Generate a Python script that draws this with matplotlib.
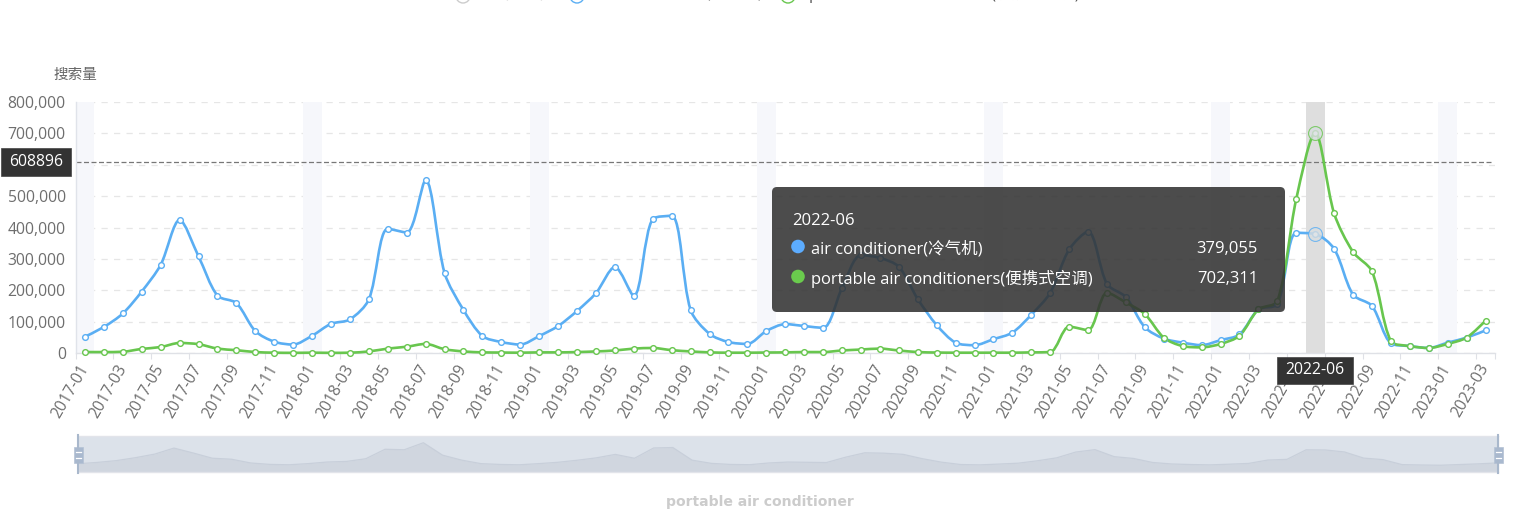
import matplotlib
matplotlib.use('Agg')
import matplotlib.pyplot as plt
from matplotlib.path import Path
from matplotlib.patches import PathPatch, FancyBboxPatch, Rectangle, Circle

plt.rcParams['font.family'] = ['Open Sans', 'Noto Sans CJK SC', 'DejaVu Sans']

months = ['%d-%02d' % (y, m) for y in range(2017, 2024) for m in range(1, 13)][:75]

air_conditioner = [
    52000, 83000, 126000, 196000, 281000, 424000, 308000, 183000, 159000, 70000, 36000, 27000,
    55000, 93000, 107000, 171000, 396000, 384000, 551000, 255000, 137000, 54000, 35000, 27000,
    54000, 86000, 134000, 191000, 274000, 182000, 427000, 437000, 137000, 61000, 35000, 29000,
    70000, 92000, 86000, 80000, 207000, 312000, 303000, 275000, 172000, 89000, 33000, 25000,
    44000, 65000, 122000, 192000, 330000, 387000, 220000, 178000, 82000, 46000, 33000, 25000,
    41000, 59000, 139000, 156000, 383000, 379055, 332000, 186000, 150000, 31000, 22000, 16000,
    33000, 49000, 72000,
]
portable = [
    3000, 3000, 4000, 13000, 19000, 32000, 28000, 14000, 9000, 3000, 1000, 500,
    1000, 500, 1000, 5000, 14000, 20000, 29000, 12000, 5000, 2000, 1500, 1000,
    2000, 2000, 3000, 5000, 8000, 14000, 16000, 9000, 5000, 2000, 1000, 1000,
    1500, 2000, 3000, 3000, 8000, 11000, 14000, 8000, 3000, 1500, 1000, 1000,
    1000, 1000, 2000, 3000, 84000, 73000, 192000, 161000, 124000, 49000, 22000, 18000,
    29000, 55000, 139000, 165000, 491000, 702311, 445000, 322000, 260000, 38000, 22000, 16000,
    29000, 49000, 103000,
]
y_ticks = [0, 100000, 200000, 300000, 400000, 500000, 600000, 700000, 800000]
mark_value = 608896
hover_month = '2022-06'

BLUE = '#5aaef3'
GREEN = '#68c64e'


def clamp(v, a, b):
    return min(max(v, min(a, b)), max(a, b))


def smooth_path(xs, ys, sx, sy, smooth=0.3):
    # same steps as the echarts smooth line, worked out in pixel units
    px = [x * sx for x in xs]
    py = [y * sy for y in ys]
    n = len(px)
    verts = [(xs[0], ys[0])]
    codes = [Path.MOVETO]
    out = (px[0], py[0])
    for i in range(1, n):
        if i == n - 1:
            cin = (px[i], py[i])
            nxt = None
        else:
            vx = px[i + 1] - px[i - 1]
            vy = py[i + 1] - py[i - 1]
            l1 = ((px[i] - px[i - 1]) ** 2 + (py[i] - py[i - 1]) ** 2) ** 0.5
            l2 = ((px[i + 1] - px[i]) ** 2 + (py[i + 1] - py[i]) ** 2) ** 0.5
            r = l2 / (l1 + l2)
            ox = clamp(px[i] + vx * smooth * r, px[i], px[i + 1])
            oy = clamp(py[i] + vy * smooth * r, py[i], py[i + 1])
            cx = clamp(px[i] - (ox - px[i]) * l1 / l2, px[i], px[i - 1])
            cy = clamp(py[i] - (oy - py[i]) * l1 / l2, py[i], py[i - 1])
            ox = px[i] + (px[i] - cx) * l2 / l1
            oy = py[i] + (py[i] - cy) * l2 / l1
            cin = (cx, cy)
            nxt = (ox, oy)
        verts += [(out[0] / sx, out[1] / sy), (cin[0] / sx, cin[1] / sy), (xs[i], ys[i])]
        codes += [Path.CURVE4, Path.CURVE4, Path.CURVE4]
        out = nxt
    return Path(verts, codes)


W, H = 1536, 517
fig = plt.figure(figsize=(W / 100, H / 100), dpi=100)


def px_axes(x0, y0, x1, y1):
    return fig.add_axes([x0 / W, 1 - y1 / H, (x1 - x0) / W, (y1 - y0) / H])


# main chart
ax = px_axes(75.5, 102, 1495, 353)
n = len(months)
xs = [i + 0.5 for i in range(n)]
ax.set_xlim(0, n)
ax.set_ylim(0, 800000)
sx = (1495 - 75.5) / n
sy = 251 / 800000

ax.set_axisbelow(True)
ax.yaxis.grid(True, color='#e6e6e6', lw=0.9, ls=(0, (5, 5)))
for i in range(n):
    if months[i].endswith('-01'):
        ax.axvspan(i, i + 1, color='#f6f7fb', lw=0, zorder=1)
hi = months.index(hover_month)
ax.axvspan(hi, hi + 1, color='#dedede', lw=0, zorder=1)
ax.plot([0, n - 0.15], [mark_value, mark_value], color='#777777', lw=0.9, ls=(0, (4, 2)), zorder=2)

for vals, col in [(air_conditioner, BLUE), (portable, GREEN)]:
    ax.add_patch(PathPatch(smooth_path(xs, vals, sx, sy), fc='none', ec=col, lw=1.9, zorder=3,
                           clip_on=False, capstyle='round'))
    ax.plot(xs, vals, ls='none', marker='o', ms=4.1, mfc='white', mec=col, mew=1.0, zorder=4, clip_on=False)
    ax.plot([xs[hi]], [vals[hi]], ls='none', marker='o', ms=10, mfc='#d8dde0', mec=col, mew=0.8,
            alpha=0.8, zorder=5, clip_on=False)

for s in ['top', 'right']:
    ax.spines[s].set_visible(False)
ax.spines['left'].set_color('#e0e3ea')
ax.spines['bottom'].set_color('#dfe1e6')
ax.spines['left'].set_linewidth(1)
ax.spines['bottom'].set_linewidth(1)

ax.set_yticks(y_ticks)
ax.set_yticklabels(['{:,}'.format(v) for v in y_ticks], fontsize=11.3, color='#6e6e6e',
                   va='center_baseline')
ax.tick_params(axis='y', length=0, pad=7)
ax.set_xticks(list(range(0, n, 2)) + [n])
ax.set_xticklabels([])
ax.tick_params(axis='x', which='major', length=4, width=0.8, color='#dfe1e6')
ax.set_xticks(xs[::2], minor=True)
ax.set_xticklabels(months[::2], minor=True, rotation=60, ha='right', va='center', rotation_mode='anchor',
                   fontsize=11.3, color='#6e6e6e')
ax.tick_params(axis='x', which='minor', length=0, pad=9)

# slider at the bottom, its shadow comes from the first series
sl = px_axes(78, 436, 1498, 472)
sl.set_facecolor('#dce2ea')
spread = max(air_conditioner) - min(air_conditioner)
sl.set_ylim(min(air_conditioner) - 0.3 * spread, max(air_conditioner) + 0.3 * spread)
sl.set_xlim(0, n - 1)
sl.fill_between(range(n), air_conditioner, sl.get_ylim()[0], color='#d0d6df', lw=0)
sl.plot(range(n), air_conditioner, color='#c8cfda', lw=0.9)
sl.set_xticks([])
sl.set_yticks([])
for s in sl.spines.values():
    s.set_color('#e2e4ea')
    s.set_linewidth(1)

# everything placed in page pixels goes on this overlay
ov = fig.add_axes([0, 0, 1, 1], zorder=10)
ov.set_xlim(0, W)
ov.set_ylim(H, 0)
ov.axis('off')
ov.patch.set_alpha(0)

ov.text(53, 75.5, '搜索量', fontsize=10.5, color='#666666', ha='left', va='center')

# legend, cut off by the top of the page
legend_items = [(463, 'AC(空调)', '#cccccc', '#cccccc'),
                (577, 'air conditioner(冷气机)', BLUE, '#555555'),
                (788, 'portable air conditioners(便携式空调)', GREEN, '#555555')]
for lx, label, col, tcol in legend_items:
    ov.add_patch(Circle((lx, -4), 7, fc='white', ec=col, lw=1))
    ov.text(lx + 21, -6, label, fontsize=11.3, color=tcol, ha='left', va='center')

# marker line label
ov.add_patch(Rectangle((1, 148), 70, 28, fc='#333333', ec='#444444', lw=0.5))
ov.text(36, 161.5, str(mark_value), color='white', fontsize=11.3, ha='center', va='center')

# tooltip
ov.add_patch(FancyBboxPatch((776, 191), 505, 117, boxstyle='round,pad=4,rounding_size=5',
                            fc=(0.2, 0.2, 0.2, 0.88), ec='none'))
ov.text(792, 221, hover_month, color='white', fontsize=12, ha='left', va='center')
for ty, col, name, val in [(249, '#5cacff', 'air conditioner(冷气机)', air_conditioner[hi]),
                           (279, '#6acb4d', 'portable air conditioners(便携式空调)', portable[hi])]:
    ov.add_patch(Circle((798, ty - 2.5), 6.8, fc=col, ec='none'))
    ov.text(811, ty, name, color='white', fontsize=11.9, ha='left', va='center')
    ov.text(1258, ty, '{:,}'.format(val), color='white', fontsize=12, ha='right', va='center')

# axis pointer label
ov.add_patch(Rectangle((1277, 357), 76, 27, fc='#333333', ec='#444444', lw=0.5))
ov.text(1315, 370, hover_month, color='white', fontsize=11.3, ha='center', va='center')

# slider handles
for hx in [78, 1498]:
    ov.plot([hx, hx], [435, 473], color='#a9b8cc', lw=1.5)
    ov.add_patch(Rectangle((hx - 4.5, 447), 9, 16, fc='#a9b9cf', ec='#b5c2d4', lw=0.5))
    ov.plot([hx - 2.5, hx + 2.5], [452, 452], color='white', lw=0.9)
    ov.plot([hx - 2.5, hx + 2.5], [458, 458], color='white', lw=0.9)

ov.text(760, 502, 'portable air conditioner', color='#cccccc', fontsize=10.1, fontweight='bold',
        family=['DejaVu Sans'], ha='center', va='center')

fig.savefig('out.png', dpi=100)
